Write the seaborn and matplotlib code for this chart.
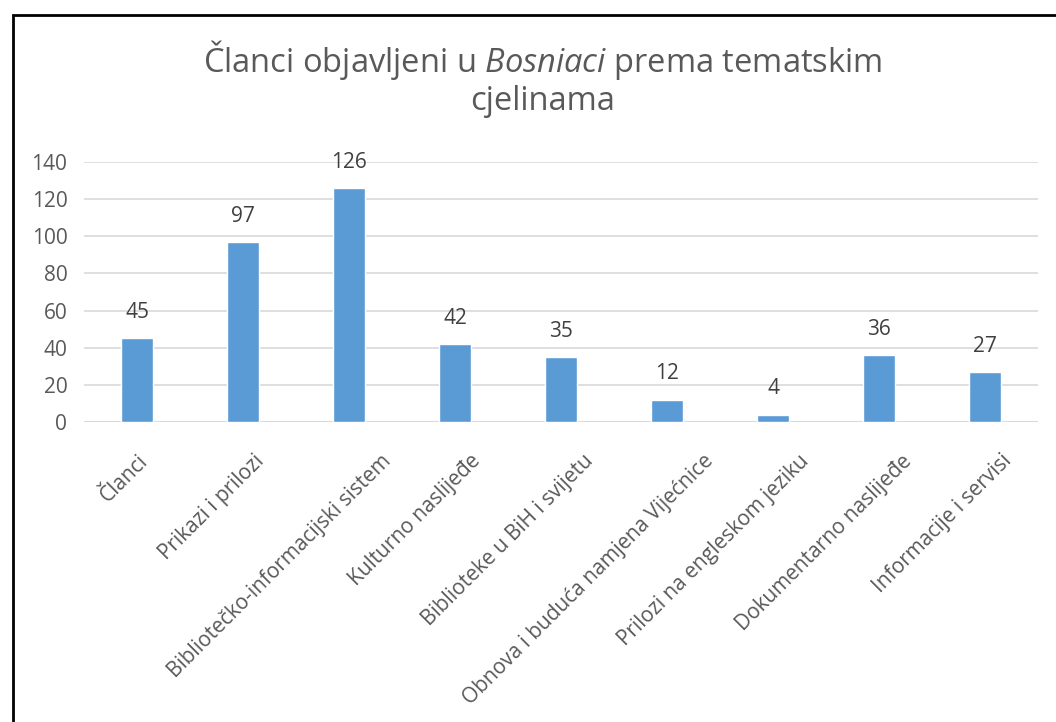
import matplotlib
matplotlib.use("Agg")
import matplotlib.pyplot as plt
import matplotlib.transforms as mtransforms
import seaborn as sns
import pandas as pd

categories = [
    "Članci",
    "Prikazi i prilozi",
    "Bibliotečko-informacijski sistem",
    "Kulturno naslijeđe",
    "Biblioteke u BiH i svijetu",
    "Obnova i buduća namjena Vijećnice",
    "Prilozi na engleskom jeziku",
    "Dokumentarno naslijeđe",
    "Informacije i servisi",
]
counts = [45, 97, 126, 42, 35, 12, 4, 36, 27]
y_ticks = [0, 20, 40, 60, 80, 100, 120, 140]

df = pd.DataFrame({"tema": categories, "broj": counts})

sns.set_theme(style="white")
plt.rcParams["font.family"] = ["Open Sans", "DejaVu Sans"]
plt.rcParams["mathtext.fontset"] = "custom"
plt.rcParams["mathtext.rm"] = "Open Sans"
plt.rcParams["mathtext.it"] = "Open Sans:italic"

text_grey = "#595959"
bar_blue = "#5B9BD5"

fig = plt.figure(figsize=(10.56, 7.22), dpi=100)
ax = fig.add_axes([84 / 1056, 1 - 422 / 722, (1038 - 84) / 1056, (422 - 162) / 722])

sns.barplot(data=df, x="tema", y="broj", color=bar_blue, width=0.31,
            saturation=1, ax=ax)

ax.set_ylim(0, 140)
ax.set_xlim(-0.5, len(categories) - 0.5)
ax.set_yticks(y_ticks)
ax.yaxis.grid(True, color="#D9D9D9", linewidth=1.2)
ax.set_axisbelow(True)
for s in ["top", "right", "left", "bottom"]:
    ax.spines[s].set_visible(False)
ax.axhline(0, color="#D9D9D9", linewidth=1.5, zorder=0)
ax.set_xlabel("")
ax.set_ylabel("")
ax.tick_params(axis="both", length=0, labelsize=15, colors=text_grey)
ax.tick_params(axis="y", pad=12)
ax.tick_params(axis="x", pad=0)
ax.set_xticks(range(len(categories)))
ax.set_xticklabels(categories, rotation=45, ha="right", va="center",
                   rotation_mode="anchor", color=text_grey, fontsize=15)

# Excel-like placement: longer labels sit a bit further right of their tick
fig.canvas.draw()
renderer = fig.canvas.get_renderer()
for lbl in ax.get_xticklabels():
    bw = lbl.get_window_extent(renderer).width
    dx = 0.175 * bw - 2
    shift = mtransforms.ScaledTranslation(dx / 100, -36 / 100, fig.dpi_scale_trans)
    lbl.set_transform(lbl.get_transform() + shift)

for c in ax.containers:
    ax.bar_label(c, padding=11, fontsize=15, color="#404040")

fig.text(543 / 1056, 1 - 60 / 722,
         "Članci objavljeni u $\\it{Bosniaci}$ prema tematskim",
         ha="center", va="center", fontsize=23.5, color=text_grey)
fig.text(543 / 1056, 1 - 102 / 722, "cjelinama",
         ha="center", va="center", fontsize=23.5, color=text_grey)

# chart frame (cut off at right and bottom, as in the original)
frame = plt.Rectangle((13 / 1056, -0.05), 1.2, 1 - 15 / 722 + 0.05,
                      transform=fig.transFigure, fill=False,
                      edgecolor="black", linewidth=2)
fig.patches.append(frame)

fig.savefig("out.png", dpi=100, facecolor="white")
